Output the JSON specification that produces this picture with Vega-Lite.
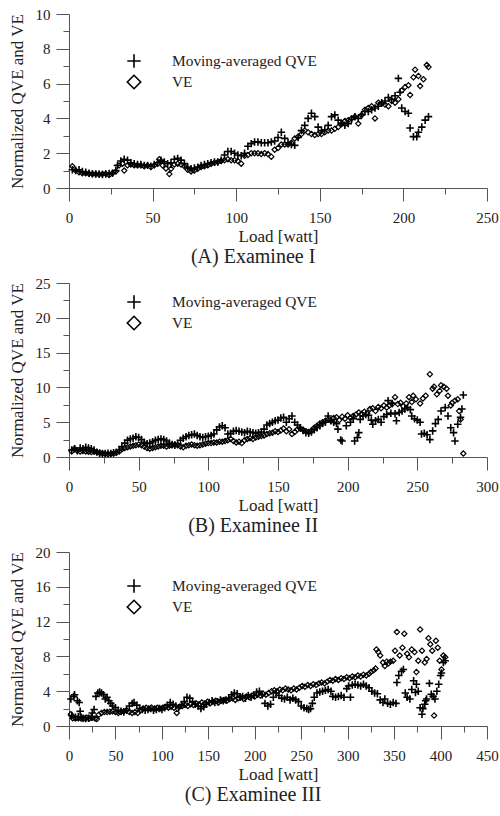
{
  "$schema": "https://vega.github.io/schema/vega-lite/v6.json",
  "padding": {"left": 8, "top": 7, "right": 5, "bottom": 5},
  "background": "white",
  "config": {
    "view": {"stroke": null},
    "font": "Liberation Serif",
    "axis": {"domainColor": "#555", "tickColor": "#555", "labelColor": "#222", "titleColor": "#222", "labelFont": "Liberation Serif", "titleFont": "Liberation Serif", "labelFontSize": 15, "titleFontSize": 17, "titleFontWeight": "normal", "grid": false, "labelOverlap": false, "labelFlush": false},
    "legend": {"padding": 0},
    "title": {"font": "Liberation Serif", "fontSize": 20, "fontWeight": "normal", "color": "#222", "orient": "bottom", "frame": "bounds", "anchor": "middle", "offset": 3}
  },
  "datasets": {
    "aQ": [{"x":2,"y":1.05},{"x":4,"y":1.0},{"x":6,"y":1.05},{"x":8,"y":0.95},{"x":10,"y":0.9},{"x":12,"y":0.85},{"x":14,"y":0.82},{"x":16,"y":0.8},{"x":18,"y":0.8},{"x":20,"y":0.78},{"x":22,"y":0.8},{"x":24,"y":0.83},{"x":26,"y":0.85},{"x":28,"y":1.0},{"x":29,"y":1.3},{"x":31,"y":1.55},{"x":33,"y":1.65},{"x":35,"y":1.6},{"x":37,"y":1.45},{"x":39,"y":1.4},{"x":41,"y":1.35},{"x":43,"y":1.35},{"x":45,"y":1.3},{"x":47,"y":1.3},{"x":49,"y":1.25},{"x":51,"y":1.35},{"x":53,"y":1.45},{"x":55,"y":1.6},{"x":57,"y":1.5},{"x":59,"y":1.4},{"x":61,"y":1.45},{"x":63,"y":1.65},{"x":65,"y":1.7},{"x":67,"y":1.6},{"x":69,"y":1.4},{"x":71,"y":1.2},{"x":73,"y":1.1},{"x":75,"y":1.15},{"x":77,"y":1.2},{"x":79,"y":1.3},{"x":81,"y":1.35},{"x":83,"y":1.4},{"x":85,"y":1.45},{"x":87,"y":1.5},{"x":89,"y":1.5},{"x":91,"y":1.6},{"x":93,"y":1.9},{"x":95,"y":2.1},{"x":97,"y":2.1},{"x":99,"y":2.0},{"x":101,"y":1.9},{"x":103,"y":1.85},{"x":105,"y":2.0},{"x":107,"y":2.4},{"x":109,"y":2.55},{"x":111,"y":2.65},{"x":113,"y":2.65},{"x":115,"y":2.6},{"x":117,"y":2.6},{"x":119,"y":2.6},{"x":121,"y":2.65},{"x":123,"y":2.7},{"x":125,"y":2.9},{"x":127,"y":3.2},{"x":129,"y":2.85},{"x":131,"y":2.6},{"x":133,"y":2.5},{"x":135,"y":2.45},{"x":137,"y":2.9},{"x":139,"y":3.3},{"x":141,"y":3.6},{"x":143,"y":4.0},{"x":145,"y":4.3},{"x":147,"y":4.1},{"x":149,"y":3.5},{"x":151,"y":3.3},{"x":153,"y":3.35},{"x":155,"y":3.6},{"x":157,"y":4.1},{"x":159,"y":4.2},{"x":161,"y":3.9},{"x":163,"y":3.7},{"x":165,"y":3.6},{"x":167,"y":3.7},{"x":169,"y":3.95},{"x":171,"y":4.1},{"x":173,"y":4.0},{"x":175,"y":4.2},{"x":177,"y":4.4},{"x":179,"y":4.4},{"x":181,"y":4.5},{"x":183,"y":4.6},{"x":185,"y":4.7},{"x":187,"y":4.9},{"x":189,"y":5.0},{"x":191,"y":5.2},{"x":193,"y":5.1},{"x":195,"y":5.3},{"x":197,"y":6.3},{"x":198,"y":5.5},{"x":199,"y":4.6},{"x":201,"y":4.4},{"x":203,"y":4.3},{"x":204,"y":3.45},{"x":206,"y":2.95},{"x":208,"y":2.95},{"x":209,"y":3.2},{"x":211,"y":3.5},{"x":213,"y":3.9},{"x":215,"y":4.1}],
    "aV": [{"x":2,"y":1.25},{"x":4,"y":1.0},{"x":6,"y":0.9},{"x":8,"y":0.85},{"x":10,"y":0.85},{"x":12,"y":0.82},{"x":14,"y":0.8},{"x":16,"y":0.8},{"x":18,"y":0.78},{"x":20,"y":0.8},{"x":22,"y":0.82},{"x":24,"y":0.75},{"x":26,"y":0.85},{"x":28,"y":0.95},{"x":30,"y":1.3},{"x":32,"y":1.4},{"x":33,"y":1.0},{"x":35,"y":1.3},{"x":37,"y":1.35},{"x":39,"y":1.3},{"x":41,"y":1.3},{"x":43,"y":1.3},{"x":45,"y":1.25},{"x":47,"y":1.3},{"x":49,"y":1.2},{"x":51,"y":1.3},{"x":53,"y":1.4},{"x":54,"y":1.65},{"x":56,"y":1.3},{"x":58,"y":1.12},{"x":60,"y":0.8},{"x":61,"y":1.1},{"x":63,"y":1.35},{"x":65,"y":1.4},{"x":67,"y":1.35},{"x":69,"y":1.25},{"x":71,"y":1.05},{"x":73,"y":0.95},{"x":75,"y":1.0},{"x":77,"y":1.1},{"x":79,"y":1.2},{"x":81,"y":1.25},{"x":83,"y":1.3},{"x":85,"y":1.4},{"x":87,"y":1.45},{"x":89,"y":1.5},{"x":91,"y":1.55},{"x":93,"y":1.6},{"x":95,"y":1.65},{"x":97,"y":1.6},{"x":99,"y":1.6},{"x":101,"y":1.55},{"x":103,"y":1.4},{"x":105,"y":1.85},{"x":107,"y":1.9},{"x":109,"y":2.0},{"x":111,"y":2.0},{"x":113,"y":2.0},{"x":115,"y":1.95},{"x":117,"y":2.0},{"x":119,"y":1.95},{"x":121,"y":1.8},{"x":123,"y":2.2},{"x":125,"y":2.3},{"x":127,"y":2.5},{"x":129,"y":2.5},{"x":131,"y":2.5},{"x":133,"y":2.6},{"x":135,"y":2.85},{"x":137,"y":2.95},{"x":139,"y":3.1},{"x":141,"y":3.3},{"x":143,"y":3.2},{"x":145,"y":3.1},{"x":147,"y":3.05},{"x":149,"y":3.1},{"x":151,"y":3.1},{"x":153,"y":3.2},{"x":155,"y":3.3},{"x":157,"y":3.3},{"x":159,"y":3.4},{"x":161,"y":3.5},{"x":163,"y":3.7},{"x":165,"y":3.85},{"x":167,"y":3.9},{"x":169,"y":4.0},{"x":171,"y":4.1},{"x":173,"y":3.7},{"x":175,"y":4.2},{"x":177,"y":4.5},{"x":179,"y":4.6},{"x":181,"y":4.7},{"x":183,"y":4.0},{"x":185,"y":4.9},{"x":187,"y":4.85},{"x":189,"y":4.8},{"x":191,"y":4.7},{"x":193,"y":5.0},{"x":195,"y":4.9},{"x":197,"y":5.1},{"x":199,"y":5.6},{"x":201,"y":5.8},{"x":203,"y":5.9},{"x":204,"y":5.35},{"x":206,"y":6.36},{"x":207,"y":6.8},{"x":209,"y":6.44},{"x":210,"y":5.86},{"x":212,"y":6.25},{"x":214,"y":7.07},{"x":215,"y":6.95}],
    "bQ": [{"x":2,"y":1.0},{"x":4,"y":1.2},{"x":6,"y":0.9},{"x":8,"y":1.3},{"x":10,"y":1.2},{"x":12,"y":1.4},{"x":14,"y":1.3},{"x":16,"y":1.2},{"x":18,"y":1.0},{"x":20,"y":0.7},{"x":22,"y":0.55},{"x":24,"y":0.5},{"x":26,"y":0.5},{"x":28,"y":0.55},{"x":30,"y":0.5},{"x":32,"y":0.6},{"x":34,"y":0.7},{"x":36,"y":1.0},{"x":38,"y":1.5},{"x":40,"y":2.0},{"x":42,"y":2.4},{"x":44,"y":2.6},{"x":46,"y":2.7},{"x":48,"y":2.9},{"x":50,"y":2.8},{"x":52,"y":2.5},{"x":54,"y":2.1},{"x":56,"y":1.9},{"x":58,"y":2.0},{"x":60,"y":2.2},{"x":62,"y":2.4},{"x":64,"y":2.5},{"x":66,"y":2.6},{"x":68,"y":2.5},{"x":70,"y":2.3},{"x":72,"y":2.0},{"x":74,"y":1.8},{"x":76,"y":1.7},{"x":78,"y":1.9},{"x":80,"y":2.4},{"x":82,"y":2.7},{"x":84,"y":2.9},{"x":86,"y":3.1},{"x":88,"y":3.2},{"x":90,"y":3.3},{"x":92,"y":3.1},{"x":94,"y":2.9},{"x":96,"y":2.8},{"x":98,"y":2.9},{"x":100,"y":3.0},{"x":102,"y":3.1},{"x":104,"y":3.3},{"x":106,"y":3.9},{"x":108,"y":4.3},{"x":110,"y":4.5},{"x":112,"y":4.2},{"x":114,"y":3.3},{"x":116,"y":3.4},{"x":118,"y":3.7},{"x":120,"y":3.8},{"x":122,"y":3.7},{"x":124,"y":3.6},{"x":126,"y":3.5},{"x":128,"y":3.7},{"x":130,"y":3.6},{"x":132,"y":3.5},{"x":134,"y":3.4},{"x":136,"y":3.5},{"x":138,"y":3.6},{"x":140,"y":4.0},{"x":142,"y":4.6},{"x":144,"y":4.8},{"x":146,"y":5.0},{"x":148,"y":5.2},{"x":150,"y":5.3},{"x":152,"y":5.6},{"x":154,"y":5.7},{"x":156,"y":5.0},{"x":158,"y":5.5},{"x":160,"y":5.9},{"x":162,"y":5.0},{"x":164,"y":4.6},{"x":166,"y":4.2},{"x":168,"y":3.8},{"x":170,"y":3.5},{"x":172,"y":3.4},{"x":174,"y":3.6},{"x":176,"y":3.9},{"x":178,"y":4.2},{"x":180,"y":4.5},{"x":182,"y":4.8},{"x":184,"y":5.0},{"x":186,"y":5.9},{"x":188,"y":5.2},{"x":190,"y":5.0},{"x":192,"y":4.8},{"x":193,"y":4.0},{"x":195,"y":2.45},{"x":196,"y":2.3},{"x":199,"y":4.5},{"x":202,"y":5.0},{"x":204,"y":5.5},{"x":205,"y":2.3},{"x":207,"y":2.8},{"x":208,"y":3.5},{"x":209,"y":5.4},{"x":211,"y":5.9},{"x":213,"y":6.1},{"x":215,"y":6.0},{"x":217,"y":5.3},{"x":218,"y":4.7},{"x":220,"y":5.2},{"x":222,"y":5.4},{"x":224,"y":5.0},{"x":226,"y":5.8},{"x":228,"y":6.1},{"x":229,"y":8.1},{"x":231,"y":6.3},{"x":232,"y":7.7},{"x":234,"y":6.2},{"x":235,"y":5.2},{"x":237,"y":6.4},{"x":239,"y":6.6},{"x":241,"y":6.9},{"x":243,"y":7.1},{"x":245,"y":6.8},{"x":246,"y":5.9},{"x":248,"y":5.5},{"x":250,"y":5.3},{"x":252,"y":5.0},{"x":253,"y":3.3},{"x":255,"y":3.4},{"x":257,"y":3.2},{"x":259,"y":2.5},{"x":261,"y":3.75},{"x":263,"y":4.8},{"x":265,"y":5.4},{"x":267,"y":6.6},{"x":270,"y":7.1},{"x":272,"y":5.9},{"x":274,"y":4.2},{"x":276,"y":3.5},{"x":277,"y":2.3},{"x":279,"y":4.7},{"x":281,"y":5.7},{"x":282,"y":6.9},{"x":283,"y":8.9}],
    "bV": [{"x":2,"y":0.8},{"x":4,"y":1.2},{"x":6,"y":0.9},{"x":8,"y":0.8},{"x":10,"y":0.85},{"x":12,"y":0.8},{"x":14,"y":0.75},{"x":16,"y":0.7},{"x":18,"y":0.75},{"x":20,"y":0.7},{"x":22,"y":0.6},{"x":24,"y":0.5},{"x":26,"y":0.45},{"x":28,"y":0.4},{"x":30,"y":0.45},{"x":32,"y":0.5},{"x":34,"y":0.6},{"x":36,"y":0.8},{"x":38,"y":1.1},{"x":40,"y":1.3},{"x":42,"y":1.4},{"x":44,"y":1.5},{"x":46,"y":1.6},{"x":48,"y":1.7},{"x":50,"y":1.8},{"x":52,"y":1.7},{"x":54,"y":1.5},{"x":56,"y":1.3},{"x":58,"y":1.2},{"x":60,"y":1.3},{"x":62,"y":1.4},{"x":64,"y":1.5},{"x":66,"y":1.6},{"x":68,"y":1.6},{"x":70,"y":1.5},{"x":72,"y":1.6},{"x":74,"y":1.7},{"x":76,"y":1.8},{"x":78,"y":1.7},{"x":80,"y":1.5},{"x":82,"y":1.4},{"x":84,"y":1.6},{"x":86,"y":1.7},{"x":88,"y":1.8},{"x":90,"y":1.7},{"x":92,"y":1.6},{"x":94,"y":1.7},{"x":96,"y":1.8},{"x":98,"y":1.9},{"x":100,"y":2.0},{"x":102,"y":2.0},{"x":104,"y":2.1},{"x":106,"y":2.1},{"x":108,"y":2.2},{"x":110,"y":2.2},{"x":112,"y":2.3},{"x":114,"y":2.4},{"x":116,"y":2.6},{"x":118,"y":2.3},{"x":120,"y":2.1},{"x":122,"y":2.2},{"x":124,"y":2.0},{"x":126,"y":2.4},{"x":128,"y":2.6},{"x":130,"y":2.7},{"x":132,"y":2.6},{"x":134,"y":2.8},{"x":136,"y":2.9},{"x":138,"y":3.0},{"x":140,"y":3.1},{"x":142,"y":3.3},{"x":144,"y":3.4},{"x":146,"y":3.5},{"x":148,"y":3.7},{"x":150,"y":3.6},{"x":152,"y":3.8},{"x":154,"y":4.1},{"x":156,"y":3.7},{"x":158,"y":4.0},{"x":160,"y":3.3},{"x":162,"y":3.6},{"x":164,"y":4.0},{"x":166,"y":4.1},{"x":168,"y":3.9},{"x":170,"y":3.7},{"x":172,"y":3.6},{"x":174,"y":3.8},{"x":176,"y":4.2},{"x":178,"y":4.5},{"x":180,"y":4.8},{"x":182,"y":5.0},{"x":184,"y":5.2},{"x":186,"y":5.4},{"x":188,"y":5.2},{"x":190,"y":5.6},{"x":192,"y":5.7},{"x":194,"y":5.3},{"x":196,"y":5.8},{"x":198,"y":5.5},{"x":200,"y":6.0},{"x":202,"y":5.6},{"x":204,"y":5.9},{"x":206,"y":6.1},{"x":208,"y":6.4},{"x":210,"y":6.2},{"x":212,"y":6.5},{"x":214,"y":6.3},{"x":216,"y":6.9},{"x":218,"y":7.0},{"x":220,"y":6.6},{"x":222,"y":7.2},{"x":224,"y":7.0},{"x":226,"y":7.4},{"x":228,"y":7.1},{"x":230,"y":7.4},{"x":232,"y":7.6},{"x":234,"y":8.6},{"x":236,"y":7.6},{"x":238,"y":7.8},{"x":240,"y":7.3},{"x":242,"y":7.7},{"x":244,"y":8.6},{"x":246,"y":7.9},{"x":247,"y":8.8},{"x":249,"y":8.3},{"x":252,"y":7.7},{"x":254,"y":8.4},{"x":256,"y":8.8},{"x":259,"y":11.9},{"x":261,"y":9.8},{"x":262,"y":10.1},{"x":264,"y":9.0},{"x":266,"y":9.5},{"x":267,"y":10.3},{"x":269,"y":10.1},{"x":271,"y":9.8},{"x":272,"y":8.8},{"x":274,"y":7.4},{"x":275,"y":7.8},{"x":277,"y":8.1},{"x":279,"y":8.3},{"x":280,"y":6.6},{"x":281,"y":5.4},{"x":283,"y":0.5}],
    "cQ": [{"x":2,"y":3.1},{"x":3,"y":1.2},{"x":5,"y":3.4},{"x":6,"y":3.6},{"x":7,"y":1.0},{"x":9,"y":2.9},{"x":10,"y":1.1},{"x":11,"y":2.7},{"x":12,"y":1.7},{"x":13,"y":1.0},{"x":15,"y":0.9},{"x":18,"y":0.85},{"x":21,"y":0.9},{"x":24,"y":1.0},{"x":25,"y":1.5},{"x":27,"y":1.9},{"x":29,"y":3.4},{"x":31,"y":3.8},{"x":33,"y":3.9},{"x":35,"y":3.8},{"x":37,"y":3.6},{"x":39,"y":3.1},{"x":41,"y":3.3},{"x":43,"y":2.9},{"x":45,"y":2.6},{"x":47,"y":2.3},{"x":50,"y":2.1},{"x":53,"y":1.8},{"x":56,"y":1.7},{"x":59,"y":1.6},{"x":62,"y":1.8},{"x":65,"y":2.3},{"x":68,"y":2.6},{"x":70,"y":2.7},{"x":73,"y":2.4},{"x":76,"y":2.0},{"x":79,"y":1.9},{"x":82,"y":1.8},{"x":85,"y":1.9},{"x":88,"y":2.0},{"x":91,"y":1.8},{"x":94,"y":1.9},{"x":97,"y":2.0},{"x":100,"y":1.9},{"x":103,"y":2.1},{"x":106,"y":2.4},{"x":109,"y":2.7},{"x":112,"y":2.5},{"x":115,"y":2.3},{"x":118,"y":2.1},{"x":121,"y":2.4},{"x":124,"y":2.8},{"x":127,"y":3.3},{"x":130,"y":3.2},{"x":133,"y":2.8},{"x":136,"y":2.5},{"x":139,"y":2.3},{"x":142,"y":2.0},{"x":145,"y":2.2},{"x":148,"y":2.5},{"x":151,"y":2.7},{"x":154,"y":2.9},{"x":157,"y":2.7},{"x":160,"y":2.8},{"x":163,"y":3.0},{"x":166,"y":2.9},{"x":169,"y":3.0},{"x":172,"y":3.2},{"x":175,"y":3.6},{"x":178,"y":3.8},{"x":181,"y":3.7},{"x":184,"y":3.3},{"x":187,"y":3.4},{"x":190,"y":3.2},{"x":193,"y":3.5},{"x":196,"y":3.3},{"x":199,"y":3.5},{"x":202,"y":3.9},{"x":205,"y":4.0},{"x":208,"y":3.6},{"x":211,"y":2.6},{"x":214,"y":2.3},{"x":217,"y":2.5},{"x":220,"y":3.3},{"x":223,"y":3.8},{"x":226,"y":3.5},{"x":229,"y":3.2},{"x":232,"y":3.1},{"x":235,"y":3.3},{"x":238,"y":3.0},{"x":241,"y":3.2},{"x":244,"y":3.0},{"x":247,"y":2.8},{"x":250,"y":2.3},{"x":253,"y":2.1},{"x":256,"y":2.0},{"x":258,"y":1.9},{"x":260,"y":2.0},{"x":262,"y":2.6},{"x":264,"y":3.3},{"x":267,"y":3.8},{"x":270,"y":3.9},{"x":273,"y":4.0},{"x":276,"y":4.1},{"x":279,"y":4.2},{"x":282,"y":4.0},{"x":284,"y":3.4},{"x":287,"y":3.3},{"x":290,"y":3.4},{"x":293,"y":3.5},{"x":296,"y":3.3},{"x":299,"y":4.3},{"x":301,"y":4.6},{"x":303,"y":3.3},{"x":305,"y":4.7},{"x":308,"y":4.8},{"x":311,"y":4.7},{"x":314,"y":4.6},{"x":317,"y":4.8},{"x":320,"y":4.6},{"x":323,"y":4.4},{"x":326,"y":4.0},{"x":329,"y":3.8},{"x":332,"y":3.7},{"x":335,"y":3.0},{"x":338,"y":2.7},{"x":340,"y":3.1},{"x":343,"y":2.6},{"x":346,"y":2.5},{"x":349,"y":2.7},{"x":352,"y":2.6},{"x":353,"y":5.0},{"x":355,"y":5.8},{"x":358,"y":6.3},{"x":360,"y":6.5},{"x":362,"y":3.8},{"x":364,"y":3.3},{"x":367,"y":3.1},{"x":369,"y":4.2},{"x":371,"y":5.2},{"x":373,"y":3.85},{"x":374,"y":4.8},{"x":376,"y":4.0},{"x":378,"y":2.1},{"x":380,"y":1.35},{"x":381,"y":2.0},{"x":383,"y":2.5},{"x":384,"y":2.9},{"x":385,"y":3.1},{"x":388,"y":4.9},{"x":390,"y":3.65},{"x":392,"y":3.4},{"x":394,"y":3.1},{"x":396,"y":4.0},{"x":398,"y":4.8},{"x":400,"y":5.8},{"x":401,"y":6.1},{"x":403,"y":7.3},{"x":405,"y":7.5}],
    "cV": [{"x":2,"y":1.35},{"x":4,"y":0.9},{"x":7,"y":0.85},{"x":10,"y":0.9},{"x":13,"y":0.85},{"x":16,"y":0.9},{"x":19,"y":0.95},{"x":22,"y":0.9},{"x":25,"y":0.95},{"x":28,"y":0.85},{"x":30,"y":0.8},{"x":32,"y":1.3},{"x":35,"y":1.5},{"x":38,"y":1.6},{"x":41,"y":1.6},{"x":44,"y":1.65},{"x":47,"y":1.7},{"x":50,"y":1.6},{"x":53,"y":1.5},{"x":56,"y":1.6},{"x":59,"y":1.7},{"x":62,"y":1.8},{"x":65,"y":1.6},{"x":68,"y":1.5},{"x":71,"y":1.6},{"x":74,"y":1.5},{"x":77,"y":1.8},{"x":80,"y":2.0},{"x":83,"y":2.1},{"x":86,"y":2.0},{"x":89,"y":2.1},{"x":92,"y":2.0},{"x":95,"y":2.1},{"x":98,"y":2.0},{"x":101,"y":2.1},{"x":104,"y":2.2},{"x":107,"y":2.1},{"x":110,"y":2.2},{"x":113,"y":2.1},{"x":116,"y":1.5},{"x":119,"y":2.2},{"x":122,"y":2.3},{"x":125,"y":2.4},{"x":128,"y":2.3},{"x":131,"y":2.5},{"x":134,"y":2.4},{"x":137,"y":2.6},{"x":140,"y":2.5},{"x":143,"y":2.7},{"x":146,"y":2.6},{"x":149,"y":2.8},{"x":152,"y":2.6},{"x":155,"y":2.8},{"x":158,"y":2.9},{"x":161,"y":2.7},{"x":164,"y":2.9},{"x":167,"y":3.0},{"x":170,"y":2.9},{"x":173,"y":3.1},{"x":176,"y":3.2},{"x":179,"y":3.0},{"x":182,"y":3.2},{"x":185,"y":3.3},{"x":188,"y":3.1},{"x":191,"y":3.4},{"x":194,"y":3.3},{"x":197,"y":3.5},{"x":200,"y":3.4},{"x":203,"y":3.6},{"x":206,"y":3.5},{"x":209,"y":3.7},{"x":212,"y":3.6},{"x":215,"y":3.8},{"x":218,"y":4.0},{"x":221,"y":4.1},{"x":224,"y":4.0},{"x":227,"y":4.2},{"x":230,"y":4.1},{"x":233,"y":4.3},{"x":236,"y":4.2},{"x":239,"y":4.1},{"x":242,"y":4.3},{"x":245,"y":4.2},{"x":248,"y":4.4},{"x":251,"y":4.6},{"x":254,"y":4.5},{"x":257,"y":4.7},{"x":260,"y":4.6},{"x":263,"y":4.8},{"x":266,"y":4.7},{"x":269,"y":4.9},{"x":272,"y":5.0},{"x":275,"y":4.9},{"x":278,"y":5.1},{"x":281,"y":5.3},{"x":284,"y":5.2},{"x":287,"y":5.4},{"x":290,"y":5.3},{"x":293,"y":5.5},{"x":296,"y":5.4},{"x":299,"y":5.6},{"x":302,"y":5.5},{"x":305,"y":5.7},{"x":308,"y":5.6},{"x":311,"y":5.8},{"x":314,"y":5.7},{"x":317,"y":5.9},{"x":320,"y":5.8},{"x":323,"y":6.0},{"x":325,"y":6.2},{"x":328,"y":6.4},{"x":330,"y":6.6},{"x":331,"y":8.8},{"x":333,"y":8.5},{"x":335,"y":8.1},{"x":338,"y":7.3},{"x":340,"y":6.9},{"x":342,"y":7.4},{"x":344,"y":7.2},{"x":346,"y":7.4},{"x":349,"y":7.5},{"x":351,"y":8.65},{"x":353,"y":10.8},{"x":356,"y":8.1},{"x":359,"y":9.0},{"x":361,"y":10.6},{"x":364,"y":8.3},{"x":366,"y":7.9},{"x":369,"y":8.8},{"x":372,"y":8.5},{"x":374,"y":6.2},{"x":376,"y":7.5},{"x":378,"y":11.1},{"x":380,"y":8.65},{"x":383,"y":7.3},{"x":385,"y":7.7},{"x":387,"y":10.1},{"x":389,"y":9.4},{"x":391,"y":8.65},{"x":393,"y":1.2},{"x":395,"y":9.8},{"x":397,"y":9.0},{"x":399,"y":7.5},{"x":401,"y":6.5},{"x":403,"y":8.1},{"x":405,"y":7.9}]
  },
  "resolve": {"scale": {"shape": "independent", "x": "independent", "y": "independent"}, "legend": {"shape": "independent"}},
  "spacing": 95,
  "bounds": "flush",
  "vconcat": [
    {
      "width": 418, "height": 174,
      "title": {"text": "(A) Examinee I"},
      "resolve": {"axis": {"x": "independent", "y": "independent"}},
      "layer": [
        {
          "data": {"name": "aQ"},
          "mark": {"type": "point", "filled": false, "size": 56, "strokeWidth": 1.6, "color": "black", "opacity": 1},
          "encoding": {
            "x": {"field": "x", "type": "quantitative", "scale": {"domain": [0, 250], "nice": false},
              "axis": {"orient": "bottom", "title": "Load [watt]", "values": [0,50,100,150,200,250], "tickSize": 13, "labelPadding": 9, "titlePadding": 3, "labelOverlap": false, "labelFont": "Liberation Serif", "titleFont": "Liberation Serif", "labelFontSize": 15, "titleFontSize": 17}},
            "y": {"field": "y", "type": "quantitative", "scale": {"domain": [0, 10], "nice": false},
              "axis": {"orient": "left", "title": "Normalized QVE and VE", "values": [0,2,4,6,8,10], "tickSize": 13, "labelPadding": 6, "titlePadding": 9, "labelOverlap": false, "labelFont": "Liberation Serif", "titleFont": "Liberation Serif", "labelFontSize": 15, "titleFontSize": 17}},
            "shape": {"datum": "Moving-averaged QVE", "scale": {"domain": ["Moving-averaged QVE", "VE"], "range": ["M-1,0L1,0M0,-1L0,1", "diamond"]},
              "legend": {"orient": "none", "legendX": 57, "legendY": 39, "title": null, "symbolSize": 180, "symbolStrokeWidth": 1.6, "symbolStrokeColor": "black", "symbolFillColor": "transparent", "labelFont": "Liberation Serif", "labelFontSize": 15.4, "labelColor": "#222", "labelOffset": 30, "rowPadding": 1}}
          }
        },
        {
          "data": {"name": "aV"},
          "mark": {"type": "point", "filled": false, "size": 28, "strokeWidth": 1.2, "color": "black", "opacity": 1},
          "encoding": {
            "x": {"field": "x", "type": "quantitative", "axis": {"orient": "bottom", "title": null, "labels": false, "domain": false, "values": [25,75,125,175,225], "tickSize": 6}},
            "y": {"field": "y", "type": "quantitative", "axis": {"orient": "left", "title": null, "labels": false, "domain": false, "values": [1,3,5,7,9], "tickSize": 6}},
            "shape": {"datum": "VE"}
          }
        }
      ]
    },
    {
      "width": 418, "height": 174,
      "title": {"text": "(B) Examinee II"},
      "resolve": {"axis": {"x": "independent", "y": "independent"}},
      "layer": [
        {
          "data": {"name": "bQ"},
          "mark": {"type": "point", "filled": false, "size": 56, "strokeWidth": 1.6, "color": "black", "opacity": 1},
          "encoding": {
            "x": {"field": "x", "type": "quantitative", "scale": {"domain": [0, 300], "nice": false},
              "axis": {"orient": "bottom", "title": "Load [watt]", "values": [0,50,100,150,200,250,300], "tickSize": 13, "labelPadding": 9, "titlePadding": 3, "labelOverlap": false, "labelFont": "Liberation Serif", "titleFont": "Liberation Serif", "labelFontSize": 15, "titleFontSize": 17}},
            "y": {"field": "y", "type": "quantitative", "scale": {"domain": [0, 25], "nice": false},
              "axis": {"orient": "left", "title": "Normalized QVE and VE", "values": [0,5,10,15,20,25], "tickSize": 13, "labelPadding": 6, "titlePadding": 9, "labelOverlap": false, "labelFont": "Liberation Serif", "titleFont": "Liberation Serif", "labelFontSize": 15, "titleFontSize": 17}},
            "shape": {"datum": "Moving-averaged QVE", "scale": {"domain": ["Moving-averaged QVE", "VE"], "range": ["M-1,0L1,0M0,-1L0,1", "diamond"]},
              "legend": {"orient": "none", "legendX": 57, "legendY": 11, "title": null, "symbolSize": 180, "symbolStrokeWidth": 1.6, "symbolStrokeColor": "black", "symbolFillColor": "transparent", "labelFont": "Liberation Serif", "labelFontSize": 15.4, "labelColor": "#222", "labelOffset": 30, "rowPadding": 1}}
          }
        },
        {
          "data": {"name": "bV"},
          "mark": {"type": "point", "filled": false, "size": 28, "strokeWidth": 1.2, "color": "black", "opacity": 1},
          "encoding": {
            "x": {"field": "x", "type": "quantitative", "axis": {"orient": "bottom", "title": null, "labels": false, "domain": false, "values": [25,75,125,175,225,275], "tickSize": 6}},
            "y": {"field": "y", "type": "quantitative", "axis": {"orient": "left", "title": null, "labels": false, "domain": false, "values": [2.5,7.5,12.5,17.5,22.5], "tickSize": 6}},
            "shape": {"datum": "VE"}
          }
        }
      ]
    },
    {
      "width": 418, "height": 174,
      "title": {"text": "(C) Examinee III"},
      "resolve": {"axis": {"x": "independent", "y": "independent"}},
      "layer": [
        {
          "data": {"name": "cQ"},
          "mark": {"type": "point", "filled": false, "size": 56, "strokeWidth": 1.6, "color": "black", "opacity": 1},
          "encoding": {
            "x": {"field": "x", "type": "quantitative", "scale": {"domain": [0, 450], "nice": false},
              "axis": {"orient": "bottom", "title": "Load [watt]", "values": [0,50,100,150,200,250,300,350,400,450], "tickSize": 13, "labelPadding": 9, "titlePadding": 3, "labelOverlap": false, "labelFont": "Liberation Serif", "titleFont": "Liberation Serif", "labelFontSize": 15, "titleFontSize": 17}},
            "y": {"field": "y", "type": "quantitative", "scale": {"domain": [0, 20], "nice": false},
              "axis": {"orient": "left", "title": "Normalized QVE and VE", "values": [0,4,8,12,16,20], "tickSize": 13, "labelPadding": 6, "titlePadding": 9, "labelOverlap": false, "labelFont": "Liberation Serif", "titleFont": "Liberation Serif", "labelFontSize": 15, "titleFontSize": 17}},
            "shape": {"datum": "Moving-averaged QVE", "scale": {"domain": ["Moving-averaged QVE", "VE"], "range": ["M-1,0L1,0M0,-1L0,1", "diamond"]},
              "legend": {"orient": "none", "legendX": 57, "legendY": 26, "title": null, "symbolSize": 180, "symbolStrokeWidth": 1.6, "symbolStrokeColor": "black", "symbolFillColor": "transparent", "labelFont": "Liberation Serif", "labelFontSize": 15.4, "labelColor": "#222", "labelOffset": 30, "rowPadding": 1}}
          }
        },
        {
          "data": {"name": "cV"},
          "mark": {"type": "point", "filled": false, "size": 28, "strokeWidth": 1.2, "color": "black", "opacity": 1},
          "encoding": {
            "x": {"field": "x", "type": "quantitative", "axis": {"orient": "bottom", "title": null, "labels": false, "domain": false, "values": [25,75,125,175,225,275,325,375,425], "tickSize": 6}},
            "y": {"field": "y", "type": "quantitative", "axis": {"orient": "left", "title": null, "labels": false, "domain": false, "values": [2,6,10,14,18], "tickSize": 6}},
            "shape": {"datum": "VE"}
          }
        }
      ]
    }
  ]
}
